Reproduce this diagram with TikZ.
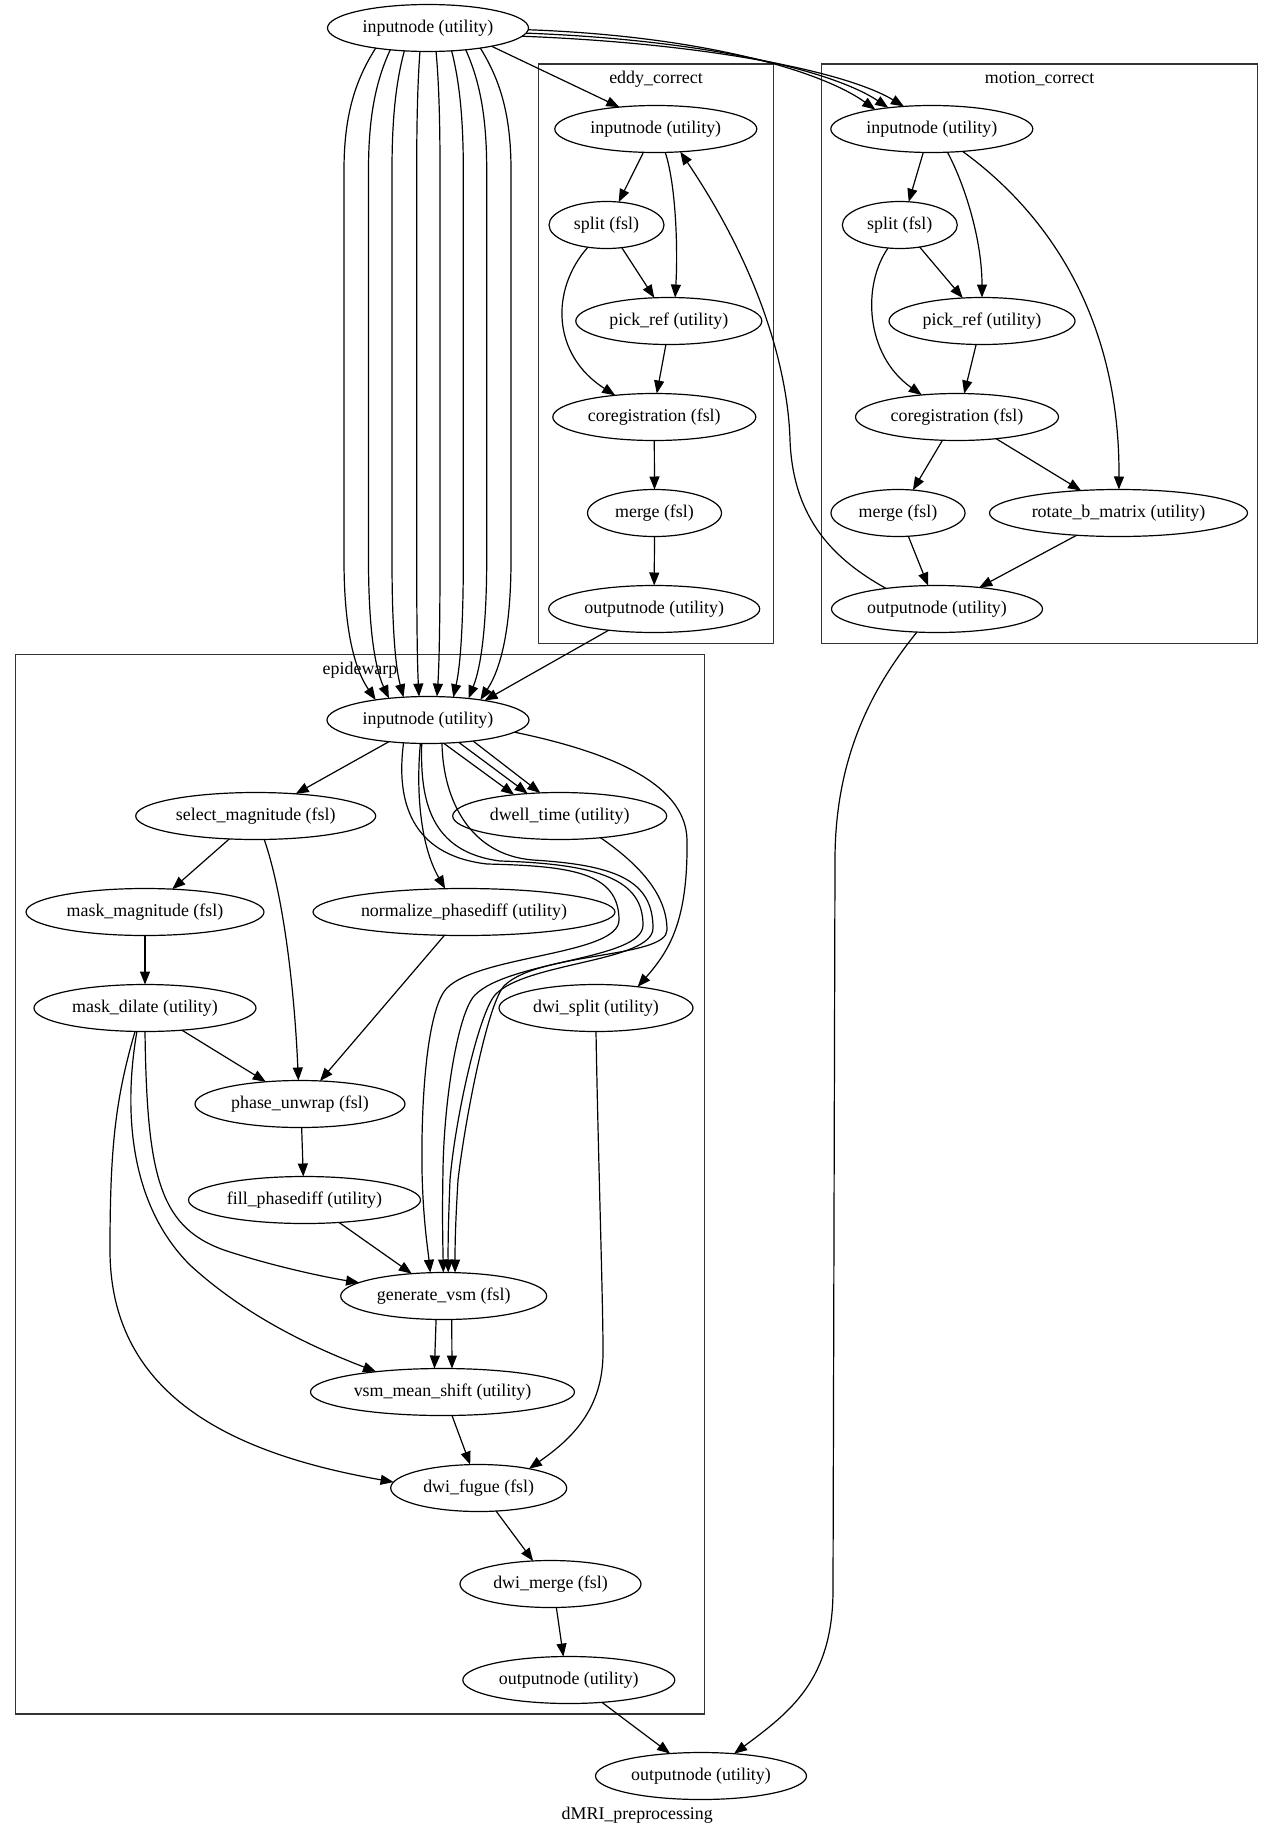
\documentclass[tikz,border=0pt]{standalone}
\usepackage{fontspec}
\setmainfont{Liberation Serif}
\usetikzlibrary{arrows.meta,shapes.geometric}
\newcommand\gvfont{\fontsize{17.9pt}{21pt}\selectfont}
\begin{document}
\begin{tikzpicture}[x=1pt,y=-1pt,
  gv/.style={draw, ellipse, line width=1.2pt, inner sep=0pt, outer sep=0pt, minimum height=47pt, font=\gvfont},
  lbl/.style={inner sep=0pt, font=\gvfont},
  cl/.style={draw=black!80, line width=1.4pt},
  ed/.style={line width=1.2pt, -{Triangle[length=13pt,width=10pt]}},
]
\fill[white] (0,0) rectangle (1275,1836);
\useasboundingbox (0,0) rectangle (1275,1836);

% clusters
\draw[cl] (538.5,64) rectangle (773.3,643.3);
\draw[cl] (821.5,64) rectangle (1257.7,643.3);
\draw[cl] (15.5,654.3) rectangle (704.3,1714);
\node[lbl] (lab_eddy) at (656,79) {eddy\_correct};
\node[lbl] (lab_mc) at (1039.6,79) {motion\_correct};
\node[lbl] (lab_epi) at (360,670.5) {epidewarp};
\node[lbl] (lab_main) at (637.3,1815) {dMRI\_preprocessing};

% nodes
\node[gv, minimum width=201] (top) at (428,28) {inputnode (utility)};
\node[gv, minimum width=202] (eddy_in) at (655.8,129) {inputnode (utility)};
\node[gv, minimum width=115] (eddy_split) at (606.5,225) {split (fsl)};
\node[gv, minimum width=186] (eddy_pick) at (668.8,321) {pick\_ref (utility)};
\node[gv, minimum width=203] (eddy_coreg) at (654.3,417) {coregistration (fsl)};
\node[gv, minimum width=134] (eddy_merge) at (654.5,513) {merge (fsl)};
\node[gv, minimum width=211] (eddy_out) at (654.2,609) {outputnode (utility)};

\node[gv, minimum width=202] (mc_in) at (931.8,129) {inputnode (utility)};
\node[gv, minimum width=115] (mc_split) at (899.8,225) {split (fsl)};
\node[gv, minimum width=186] (mc_pick) at (982,321) {pick\_ref (utility)};
\node[gv, minimum width=203] (mc_coreg) at (957,417) {coregistration (fsl)};
\node[gv, minimum width=134] (mc_merge) at (898,513) {merge (fsl)};
\node[gv, minimum width=258] (mc_rot) at (1118.5,513) {rotate\_b\_matrix (utility)};
\node[gv, minimum width=211] (mc_out) at (937,609) {outputnode (utility)};

\node[gv, minimum width=202] (epi_in) at (428,720) {inputnode (utility)};
\node[gv, minimum width=240] (sel) at (255.7,816) {select\_magnitude (fsl)};
\node[gv, minimum width=214] (dwell) at (559.7,816) {dwell\_time (utility)};
\node[gv, minimum width=238] (maskmag) at (145,912) {mask\_magnitude (fsl)};
\node[gv, minimum width=302] (norm) at (464,912) {normalize\_phasediff (utility)};
\node[gv, minimum width=222] (maskdil) at (145,1008) {mask\_dilate (utility)};
\node[gv, minimum width=194] (dwisplit) at (596,1008) {dwi\_split (utility)};
\node[gv, minimum width=210] (phase) at (300,1104) {phase\_unwrap (fsl)};
\node[gv, minimum width=232] (fill) at (304.5,1200) {fill\_phasediff (utility)};
\node[gv, minimum width=206] (genvsm) at (443.7,1296) {generate\_vsm (fsl)};
\node[gv, minimum width=264] (vsmmean) at (442.5,1392) {vsm\_mean\_shift (utility)};
\node[gv, minimum width=176] (fugue) at (478.7,1488) {dwi\_fugue (fsl)};
\node[gv, minimum width=181] (dwimerge) at (550.5,1584) {dwi\_merge (fsl)};
\node[gv, minimum width=212] (epi_out) at (568.8,1680) {outputnode (utility)};
\node[gv, minimum width=211] (final) at (701,1776) {outputnode (utility)};

% top inputnode edges
\draw[ed] (top.-16.5) -- (eddy_in.149.8);
\draw[ed] (top.-1) .. controls (700,36) and (820,70) .. (mc_in.161.7);
\draw[ed] (top.-3) .. controls (710,40) and (835,72) .. (mc_in.154.2);
\draw[ed] (top.-5) .. controls (720,44) and (850,74) .. (mc_in.141);
\draw[ed] (top.201.5) .. controls (355.4,80) and (344,115) .. (344,170) -- (344,560) .. controls (344,620) and (351.8,665) .. (epi_in.159.3);
\draw[ed] (top.210.3) .. controls (376.3,80) and (368.5,115) .. (368.5,170) -- (368.5,560) .. controls (368.5,620) and (373.5,665) .. (epi_in.151.4);
\draw[ed] (top.224.9) .. controls (396.5,80) and (392,115) .. (392,170) -- (392,560) .. controls (392,620) and (394.8,665) .. (epi_in.137.3);
\draw[ed] (top.251.1) .. controls (417.9,80) and (416.7,115) .. (416.7,170) -- (416.7,560) .. controls (416.7,620) and (417.3,665) .. (epi_in.111);
\draw[ed] (top.-71.1) .. controls (438.6,80) and (440,115) .. (440,170) -- (440,560) .. controls (440,620) and (439.2,665) .. (epi_in.69.6);
\draw[ed] (top.-44.9) .. controls (459,80) and (463.3,115) .. (463.3,170) -- (463.3,560) .. controls (463.3,620) and (460.7,665) .. (epi_in.42.7);
\draw[ed] (top.-30.1) .. controls (479.3,80) and (486.7,115) .. (486.7,170) -- (486.7,560) .. controls (486.7,620) and (481.9,665) .. (epi_in.28.8);
\draw[ed] (top.-21.1) .. controls (500.2,80) and (511,115) .. (511,170) -- (511,560) .. controls (511,620) and (503.3,665) .. (epi_in.21.1);

% eddy_correct
\draw[ed] (eddy_in.-118.2) -- (eddy_split.62.8);
\draw[ed] (eddy_in.-68.5) .. controls (676,185) and (678,250) .. (eddy_pick.75.2);
\draw[ed] (eddy_split.-56.2) -- (eddy_pick.122);
\draw[ed] (eddy_split.-130.3) .. controls (550,290) and (552,355) .. (eddy_coreg.151.1);
\draw[ed] (eddy_pick.-97.5) -- (eddy_coreg.84.2);
\draw[ed] (eddy_coreg.south) -- (eddy_merge.north);
\draw[ed] (eddy_merge.south) -- (eddy_out.north);
\draw[ed] (eddy_out.205.7) -- (epi_in.19.7);

% motion_correct
\draw[ed] (mc_in.-110) -- (mc_split.69.9);
\draw[ed] (mc_in.-56.3) .. controls (965,185) and (982,240) .. (mc_pick.90);
\draw[ed] (mc_in.-36.8) .. controls (1050,215) and (1120,320) .. (mc_rot.89);
\draw[ed] (mc_split.-48.6) -- (mc_pick.130.6);
\draw[ed] (mc_split.-117.8) .. controls (862,285) and (865,355) .. (mc_coreg.148.1);
\draw[ed] (mc_pick.-104.3) -- (mc_coreg.73.4);
\draw[ed] (mc_coreg.-122.2) -- (mc_merge.57.3);
\draw[ed] (mc_coreg.-29.8) -- (mc_rot.149.2);
\draw[ed] (mc_merge.-66.1) -- (mc_out.111.7);
\draw[ed] (mc_rot.-152.4) -- (mc_out.27.6);
\draw[ed] (mc_out.158.6) .. controls (835,560) and (793,520) .. (790,440) .. controls (788,370) and (760,270) .. (eddy_in.-43.3);
\draw[ed] (mc_out.-131.3) .. controls (870,690) and (835,760) .. (835,860) -- (833,1590) .. controls (833,1680) and (790,1712) .. (final.34.7);

% epidewarp
\draw[ed] (epi_in.-151.6) -- (sel.29.5);
\draw[ed] (epi_in.-56.6) -- (dwell.155.4);
\draw[ed] (epi_in.-36.5) -- (dwell.145.8);
\draw[ed] (epi_in.-25.9) -- (dwell.130.5);
\draw[ed] (epi_in.-108.9) .. controls (416,790) and (420,845) .. (norm.129.2);
\draw[ed] (epi_in.-8.9) .. controls (600,750) and (686,780) .. (687,840) .. controls (688,920) and (670,950) .. (dwisplit.27.6);
\draw[ed] (epi_in.-137.3) .. controls (396,800) and (410,855) .. (487,864) .. controls (570,866) and (619,872) .. (619,920) .. controls (619,955) and (480,955) .. (447,988) .. controls (427,1008) and (421,1100) .. (422,1170) .. controls (423,1220) and (428,1250) .. (genvsm.120.5);
\draw[ed] (epi_in.-105.1) .. controls (420,800) and (430,852) .. (500,861) .. controls (600,864) and (643,880) .. (643,925) .. controls (643,960) and (510,960) .. (475,995) .. controls (458,1012) and (444,1100) .. (443,1170) .. controls (442,1220) and (443,1250) .. (genvsm.91.7);
\draw[ed] (epi_in.-59.5) .. controls (443,800) and (470,855) .. (533,860) .. controls (615,865) and (653,880) .. (653,928) .. controls (653,962) and (525,962) .. (495,995) .. controls (478,1015) and (455,1120) .. (450,1180) .. controls (448,1230) and (448,1250) .. (genvsm.79.6);
\draw[ed] (dwell.-28.4) .. controls (640,865) and (667,895) .. (667,930) .. controls (667,958) and (540,952) .. (505,985) .. controls (488,1000) and (465,1120) .. (458,1180) .. controls (455,1230) and (455,1250) .. (genvsm.64.1);
\draw[ed] (sel.-139) -- (maskmag.40.6);
\draw[ed] (sel.-70.5) .. controls (285,900) and (295,1000) .. (phase.94);
\draw[ed] (norm.-130.6) -- (phase.49.1);
\draw[ed] (maskmag.south) -- (maskdil.north);
\draw[ed] (maskdil.-31.2) -- (phase.147.6);
\draw[ed] (phase.-86) -- (fill.93);
\draw[ed] (fill.-33.6) -- (genvsm.145.1);
\draw[ed] (maskdil.-90) .. controls (147,1180) and (160,1230) .. (230,1252) .. controls (280,1268) and (330,1278) .. (genvsm.171.3);
\draw[ed] (maskdil.-109.5) .. controls (125,1100) and (125,1200) .. (190,1265) .. controls (250,1320) and (320,1350) .. (vsmmean.163.3);
\draw[ed] (maskdil.-113.1) .. controls (115,1100) and (110,1150) .. (110,1250) .. controls (110,1400) and (240,1455) .. (fugue.176.2);
\draw[ed] (dwisplit.-90) .. controls (598,1150) and (603,1300) .. (603,1350) .. controls (604,1410) and (570,1440) .. (fugue.21.4);
\draw[ed] (genvsm.-108.9) -- (vsmmean.109.3);
\draw[ed] (genvsm.-71.1) -- (vsmmean.68.5);
\draw[ed] (vsmmean.-68.6) -- (fugue.110.4);
\draw[ed] (fugue.-53) -- (dwimerge.127.7);
\draw[ed] (dwimerge.-76.8) -- (epi_out.103.2);
\draw[ed] (epi_out.-34.8) -- (final.144);
\end{tikzpicture}
\end{document}
